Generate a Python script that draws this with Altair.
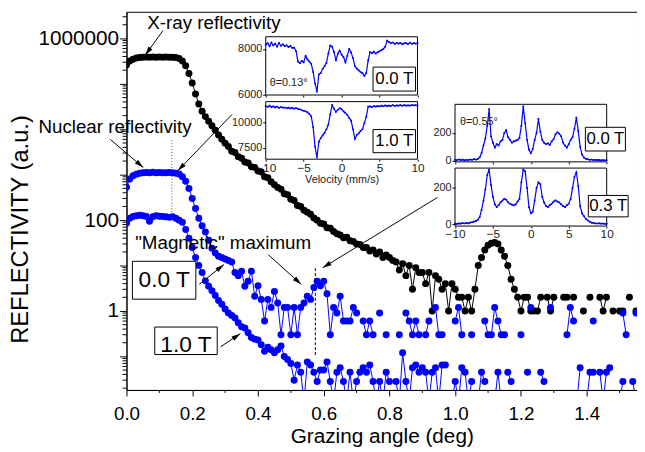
import altair as alt
import pandas as pd

FONT = "Liberation Sans"
BLUE = "#0000ff"

# ---------------- main data (grazing angle grid, step 0.01 deg) ----------------
ANGLE_STEP = 0.01
xray_refl = [
    2.6e5, 3.2e5, 3.5e5, 3.7e5, 3.8e5, 3.85e5, 3.9e5, 3.85e5, 3.9e5, 3.85e5,
    3.9e5, 3.85e5, 3.9e5, 3.85e5, 3.85e5, 3.8e5, 3.6e5, 3.2e5, 2.5e5, 1.7e5,
    1.05e5, 6.0e4, 3.6e4, 2.5e4, 1.9e4, 1.5e4, 1.2e4, 9.5e3, 7.5e3, 6.0e3,
    4900, 4200, 3300, 3100, 2500, 2300, 1900, 1800, 1500, 1450,
    1200, 1150, 900, 860, 700, 600, 520, 480, 380, 360,
    290, 270, 210, 200, 165, 150, 135, 112, 100, 85,
    82, 68, 66, 56, 50, 47, 41, 42, 35, 34,
    30, 29, 25, 25, 21, 22, 18, 20, 15, 17,
    15, 13, 12, 8, 11, 6, 10, 3, 9, 7,
    7, 4, 7, 1, 6, 5, 3, 4, 1, 4,
    3, 2, 2, 1, 2, 1, 3, 10, 15, 22,
    28, 31, 32, 30, 22, 16, 10, 5, 3, 2,
    1, 2, 2, 1, 1, 1, 2, None, 2, 1,
    2, None, None, 2, 2, None, 2, None, None, 1,
    None, 2, None, None, 2, 1, 2, None, 1, None,
    1, 1, None, 2, None, 1,
]
nuclear_00T = [
    530, 800, 950, 1030, 1080, 1100, 1120, 1110, 1130, 1100,
    1120, 1110, 1100, 1120, 1100, 1080, 1040, 900, 720, 500,
    300, 180, 110, 75, 55, 36, 24, 19, 16, 15,
    14, 13, 12, 7, 6, 7.5, 3.5, 4.5, 7.5, 2.1,
    3.6, 1.8, 0.6, 1.8, 1.2, 2.7, 1.5, 0.3, 1.2, 1.2,
    0.3, 1.2, 0.3, 1.2, 1.5, 2.1, 1.8, 3.3, 4.5, 3.6,
    4.5, 2.4, 0.3, 1.2, 0.9, 2.1, 0.6, 0.6, 0.6, 1.2,
    0.9, None, 0.6, 0.3, 0.6, 0.3, None, 0.9, None, 0.3,
    None, None, None, 0.3, None, 0.9, 0.6, 0.3, 0.6, 0.3,
    None, 0.3, 0.6, None, 1.2, 0.3, 0.3, None, None, None,
    0.6, 1.2, 0.3, None, None, 0.3, None, None, None, 0.6,
    0.3, 0.3, 1.2, 0.6, 0.3, 0.3, None, None, None, None,
    0.3, None, None, 1.2, None, None, None, None, None, 1.2,
    None, None, None, None, 0.3, 1.2, 0.6, None, None, None,
    None, None, 0.6, None, None, None, None, None, None, None,
    None, 0.9, 0.3, None, None, 0.9,
]
nuclear_10T = [
    85, 110, 120, 125, 128, 125, 120, 95, 118, 125,
    122, 120, 118, 115, 118, 110, 100, 90, 62, 40,
    25, 15, 10, 7, 4.6, 3.5, 2.8, 2.2, 1.7, 1.4,
    1.1, 0.9, 0.8, 0.7, 0.55, 0.45, 0.42, 0.33, 0.26, 0.24,
    0.23, 0.18, 0.13, 0.16, 0.14, 0.12, 0.14, 0.17, 0.10, 0.085,
    0.07, 0.03, 0.065, 0.045, 0.01, 0.075, 0.065, 0.045, 0.028, 0.05,
    0.05, 0.075, 0.028, 0.01, 0.045, 0.056, 0.028, 0.01, 0.045, 0.01,
    0.028, 0.045, 0.056, 0.045, 0.065, 0.028, 0.01, 0.028, 0.01, 0.045,
    0.028, None, 0.028, 0.01, 0.12, 0.028, 0.01, 0.056, 0.065, 0.045,
    0.056, 0.045, 0.01, 0.045, 0.056, 0.01, 0.065, 0.065, None, 0.01,
    0.028, 0.01, 0.056, 0.045, 0.01, 0.028, None, 0.01, 0.045, 0.028,
    None, None, 0.01, 0.045, 0.01, None, 0.045, 0.028, None, None,
    0.01, None, 0.045, None, None, None, 0.045, 0.028, None, None,
    None, None, 0.01, None, None, None, None, 0.01, 0.056, None,
    0.01, 0.045, 0.045, None, 0.045, 0.01, 0.045, 0.056, None, None,
    0.01, 0.028, None, None, 0.028, 0.01,
]

# ---------------- Mossbauer spectra for the insets (velocity -10..10 mm/s) ----------------
spec_013_00T = [
    8180, 8250, 8120, 8280, 8150, 8230, 8100, 8260, 8140, 8200,
    8120, 8160, 8080, 8130, 8050, 8060, 7900, 7450, 7380, 7480,
    7420, 7700, 7550, 7450, 7350, 7000, 6500, 6150, 6900, 6950,
    7140, 7250, 7400, 7800, 8150, 8100, 7860, 7500, 7800, 7930,
    7750, 7650, 7420, 7700, 8000, 7850, 7600, 7250, 7150, 7070,
    7000, 6950, 6830, 6950, 7500, 7860, 7820, 7880, 7800, 7860,
    7900, 7950, 8000, 8100, 8360, 8300, 8250, 8280, 8220, 8260,
    8230, 8270, 8200, 8240, 8250, 8210, 8280, 8220, 8250, 8230, 8250,
]
spec_013_10T = [
    11550, 11480, 11600, 11450, 11520, 11430, 11500, 11380, 11450, 11400,
    11420, 11350, 11400, 11330, 11380, 11300, 11350, 11280, 11250, 11150,
    11100, 11050, 10950, 10800, 10550, 9500, 7600, 6550, 8100, 8450,
    8700, 8950, 9300, 9750, 10750, 11650, 11300, 11000, 11200, 11350,
    11250, 11050, 10870, 10700, 10400, 10150, 9300, 8350, 8750, 8900,
    9150, 9300, 9900, 10500, 11500, 11520, 11450, 11550, 11500, 11580,
    11520, 11600, 11540, 11620, 11550, 11600, 11580, 11650, 11570, 11620,
    11600, 11640, 11580, 11650, 11600, 11630, 11600, 11660, 11620, 11640, 11610,
]
spec_055_00T = [
    8, 5, 10, 6, 9, 4, 8, 6, 10, 7,
    12, 9, 14, 25, 55, 110, 160, 250, 370, 175,
    130, 95, 120, 110, 140, 150, 200, 220, 170, 150,
    130, 140, 145, 150, 165, 250, 390, 270, 150, 80,
    55, 85, 150, 200, 300, 210, 150, 130, 120, 125,
    115, 140, 155, 190, 205, 195, 175, 130, 110, 95,
    120, 150, 170, 230, 310, 215, 100, 45, 24, 15,
    12, 8, 10, 6, 8, 5, 7, 4, 6, 3, 5,
]
spec_055_03T = [
    5, 3, 6, 4, 7, 5, 8, 6, 10, 12,
    15, 18, 25, 40, 80, 130, 190, 270, 300, 215,
    150, 110, 95, 105, 120, 130, 140, 135, 120, 113,
    108, 104, 110, 125, 140, 230, 300, 290, 200, 95,
    60, 70, 130, 200, 230, 220, 150, 120, 100, 95,
    105, 113, 125, 131, 125, 120, 110, 100, 95, 105,
    113, 140, 200, 260, 285, 210, 100, 60, 45, 30,
    22, 15, 10, 8, 6, 5, 6, 4, 5, 3, 4,
]

# ---------------- axes ----------------
x_tick_values = [0.0, 0.2, 0.4, 0.6, 0.8, 1.0, 1.2, 1.4]
x_minor_ticks = [0.1, 0.3, 0.5, 0.7, 0.9, 1.1, 1.3, 1.5]
y_major_ticks = [0.1, 1, 10, 100, 1000, 10000, 100000, 1000000]
X_DOMAIN = [0, 1.553]
Y_DOMAIN = [0.01824, 3.864e6]
W, H = 517, 383

y_minor_ticks = [m * 10.0 ** k for k in range(-2, 7) for m in range(2, 10)
                 if Y_DOMAIN[0] < m * 10.0 ** k < Y_DOMAIN[1]]


def series_df(vals):
    rows, seg = [], 0
    for i, v in enumerate(vals):
        if v is None:
            seg += 1
            continue
        rows.append({"angle": round(i * ANGLE_STEP, 2), "r": v, "seg": seg})
    return pd.DataFrame(rows)


xs = alt.Scale(domain=X_DOMAIN, nice=False, zero=False)
ys = alt.Scale(type="log", domain=Y_DOMAIN, nice=False)
x_axis = alt.Axis(values=x_tick_values, format=".1f", tickSize=6, tickColor="black",
                  domainColor="black", labelFontSize=19, labelFont=FONT, labelColor="black",
                  labelPadding=9, labelFlush=False, title="Grazing angle (deg)", titleFont=FONT,
                  titleFontSize=21, titleFontWeight="normal", titleColor="black", titlePadding=2,
                  grid=False)
y_axis = alt.Axis(values=y_major_ticks, tickSize=7, tickColor="black", domainColor="black",
                  labelExpr="datum.value == 1000000 ? '1000000' : datum.value == 100 ? '100' : datum.value == 1 ? '1' : ''",
                  labelFontSize=21, labelFont=FONT, labelColor="black", labelPadding=1,
                  labelOverlap=False, labelFlush=False,
                  title="REFLECTIVITY (a.u.)", titleFont=FONT, titleFontSize=24,
                  titleFontWeight="normal", titleColor="black", titleAngle=270,
                  titleAlign="center", titleBaseline="middle", titleX=-107, titleY=220,
                  grid=False)


def MX(f):
    return alt.X(f, type="quantitative", scale=xs, axis=x_axis)


def MY(f):
    return alt.Y(f, type="quantitative", scale=ys, axis=y_axis)


layers = []
# minor ticks
layers.append(alt.Chart(pd.DataFrame({"t": x_minor_ticks})).mark_rule(color="black", strokeWidth=1)
              .encode(x=MX("t"), y=alt.value(H), y2=alt.value(H + 3)))
layers.append(alt.Chart(pd.DataFrame({"t": y_minor_ticks})).mark_rule(color="black", strokeWidth=1)
              .encode(y=MY("t"), x=alt.value(-4), x2=alt.value(0)))

for vals, col in [(xray_refl, "black"), (nuclear_00T, BLUE), (nuclear_10T, BLUE)]:
    d = series_df(vals)
    layers.append(alt.Chart(d).mark_line(color=col, strokeWidth=1, clip=True)
                  .encode(x=MX("angle"), y=MY("r"), detail="seg:N"))
    layers.append(alt.Chart(d).mark_circle(color=col, size=50, opacity=1, clip=True)
                  .encode(x=MX("angle"), y=MY("r")))

# vertical guide lines
guides = pd.DataFrame({"x": [0.138], "y1": [110], "y2": [6070]})
layers.append(alt.Chart(guides).mark_rule(color="#444", strokeWidth=1, strokeDash=[1, 2])
              .encode(x=MX("x"), y=MY("y1"), y2="y2"))
guides2 = pd.DataFrame({"x": [0.5745], "y1": [0.107], "y2": [9.66]})
layers.append(alt.Chart(guides2).mark_rule(color="black", strokeWidth=1, strokeDash=[3, 2])
              .encode(x=MX("x"), y=MY("y1"), y2="y2"))

# arrows
arrows = pd.DataFrame({
    "x1": [0.111, -0.049, 0.321, 0.4315, 0.946, 0.2213, 0.2862],
    "y1": [1.49e6, 5970, 2.12e4, 17.3, 316, 3.86, 0.1626],
    "x2": [0.057, 0.051, 0.156, 0.5315, 0.5967, 0.2964, 0.3462],
    "y2": [4.27e5, 1442, 1222, 3.86, 8.91, 10.5, 0.316],
    "ang": [215.8, 130.5, 224, 132, 238.5, 51.3, 56.4],
})
layers.append(alt.Chart(arrows).mark_rule(color="black", strokeWidth=1)
              .encode(x=MX("x1"), x2="x2", y=MY("y1"), y2="y2"))
layers.append(alt.Chart(arrows).mark_point(shape="M0,0L-0.55,2L0.55,2Z", filled=True, size=81,
                                           color="black", opacity=1, strokeWidth=0)
              .encode(x=MX("x2"), y=MY("y2"), angle=alt.Angle("ang:Q", scale=None)))

# field boxes
boxes = pd.DataFrame({"x1": [0.018, 0.086], "x2": [0.211, 0.276],
                      "y1": [1.82, 0.110], "y2": [12.4, 0.443]})
layers.append(alt.Chart(boxes).mark_rect(fill="white", stroke="black", strokeWidth=1)
              .encode(x=MX("x1"), x2="x2", y=MY("y1"), y2="y2"))

texts = pd.DataFrame({
    "x": [0.266, -0.035, 0.294],
    "y": [2.23e6, 1.1e4, 31.6],
    "t": ["X-ray reflectivity", "Nuclear reflectivity", "\"Magnetic\" maximum"],
})
layers.append(alt.Chart(texts).mark_text(font=FONT, fontSize=19, color="black",
                                         align="center", baseline="middle")
              .encode(x=MX("x"), y=MY("y"), text="t:N"))
box_texts = pd.DataFrame({"x": [0.1147, 0.181], "y": [4.72, 0.173], "t": ["0.0 T", "1.0 T"]})
layers.append(alt.Chart(box_texts).mark_text(font=FONT, fontSize=23, color="black",
                                             align="center", baseline="middle")
              .encode(x=MX("x"), y=MY("y"), text="t:N"))

main = alt.layer(*layers)


# ---------------- insets ----------------
def inset(vals, x_rng, y_rng, y_dom, y_ticks, x_labels, x_title, tag, tag_box, tag_xy,
          theta=None):
    n = len(vals)
    df = pd.DataFrame({"v": [-10 + 20 * i / (n - 1) for i in range(n)], "c": vals})
    sx = alt.Scale(domain=[-10, 10], range=x_rng, nice=False, zero=False)
    sy = alt.Scale(domain=y_dom, range=y_rng, nice=False, zero=False)
    xa = alt.Axis(orient="bottom", offset=y_rng[0] - H, values=[-10, -5, 0, 5, 10],
                  labels=x_labels, tickSize=2, tickColor="black", domain=False, grid=False,
                  format="d", labelFont=FONT, labelFontSize=12, labelColor="#222",
                  labelPadding=1, labelFlush=False, title=x_title, titleFont=FONT,
                  titleFontSize=11, titleFontWeight="normal", titleColor="#222", titleY=21,
                  titleBaseline="middle", zindex=1)
    ya = alt.Axis(orient="left", offset=-x_rng[0], values=y_ticks, tickSize=3,
                  tickColor="black", domain=False, grid=False, format="d", labelFont=FONT,
                  labelFontSize=11, labelColor="#222", labelPadding=1, labelFlush=False,
                  labelBaseline="bottom", labelOffset=5,
                  title="", zindex=1)

    def X(f):
        return alt.X(f, type="quantitative", scale=sx, axis=xa)

    def Y(f):
        return alt.Y(f, type="quantitative", scale=sy, axis=ya)

    parts = []
    frame = pd.DataFrame({"x1": [-10], "x2": [10], "y1": [y_dom[0]], "y2": [y_dom[1]]})
    parts.append(alt.Chart(frame).mark_rect(fill="white", stroke="black", strokeWidth=1)
                 .encode(x=X("x1"), x2="x2", y=Y("y1"), y2="y2"))
    parts.append(alt.Chart(df).mark_line(color=BLUE, strokeWidth=1.2, clip=True)
                 .encode(x=X("v"), y=Y("c")))
    parts.append(alt.Chart(df).mark_square(color=BLUE, size=3, opacity=1, clip=True)
                 .encode(x=X("v"), y=Y("c")))
    tb = pd.DataFrame({"x1": [tag_box[0]], "x2": [tag_box[1]],
                       "y1": [tag_box[2]], "y2": [tag_box[3]]})
    parts.append(alt.Chart(tb).mark_rect(fill="white", stroke="black", strokeWidth=1)
                 .encode(x=X("x1"), x2="x2", y=Y("y1"), y2="y2"))
    tt = pd.DataFrame({"x": [tag_xy[0]], "y": [tag_xy[1]], "t": [tag]})
    parts.append(alt.Chart(tt).mark_text(font=FONT, fontSize=17, color="black",
                                         align="center", baseline="middle")
                 .encode(x=X("x"), y=Y("y"), text="t:N"))
    if theta is not None:
        th = pd.DataFrame({"x": [theta[0]], "y": [theta[1]], "t": [theta[2]]})
        parts.append(alt.Chart(th).mark_text(font=FONT, fontSize=11, color="#222",
                                             align="left", baseline="middle")
                     .encode(x=X("x"), y=Y("y"), text="t:N"))
    return alt.layer(*parts)


ins1 = inset(spec_013_00T, [141, 294.7], [84.3, 25.3], [6000, 8530], [6000, 8000], False, "",
             "0.0 T", [4.14, 9.74, 6171, 7213], [6.94, 6690], (-9.48, 6527, "θ=0.13°"))
ins2 = inset(spec_013_10T, [141, 294.7], [149.3, 91], [6384, 11990], [7500, 10000], True,
             "Velocity (mm/s)", "1.0 T", [4.14, 9.74, 7019, 9269], [6.94, 8144])
ins3 = inset(spec_055_00T, [332.7, 486.3], [152, 93.7], [-7, 405], [0, 200], False, "",
             "0.0 T", [7.19, 12.47, 70.7, 240.3], [9.83, 155.5], (-9.35, 277.8, "θ=0.55°"))
ins4 = inset(spec_055_03T, [332.7, 486.3], [217, 158.3], [-9, 308], [0, 200], True, "",
             "0.3 T", [7.58, 12.83, 41.2, 158.4], [10.2, 99.8])

chart = (
    alt.layer(main, ins1, ins2, ins3, ins4)
    .resolve_scale(x="independent", y="independent")
    .properties(width=W, height=H, autosize=alt.AutoSizeParams(type="none"),
                padding={"left": 120, "top": 1, "right": 0, "bottom": 60},
                background="white")
    .configure_view(stroke="black", strokeWidth=1)
)

chart.save("out.html", embed_options={"renderer": "svg", "actions": False})
